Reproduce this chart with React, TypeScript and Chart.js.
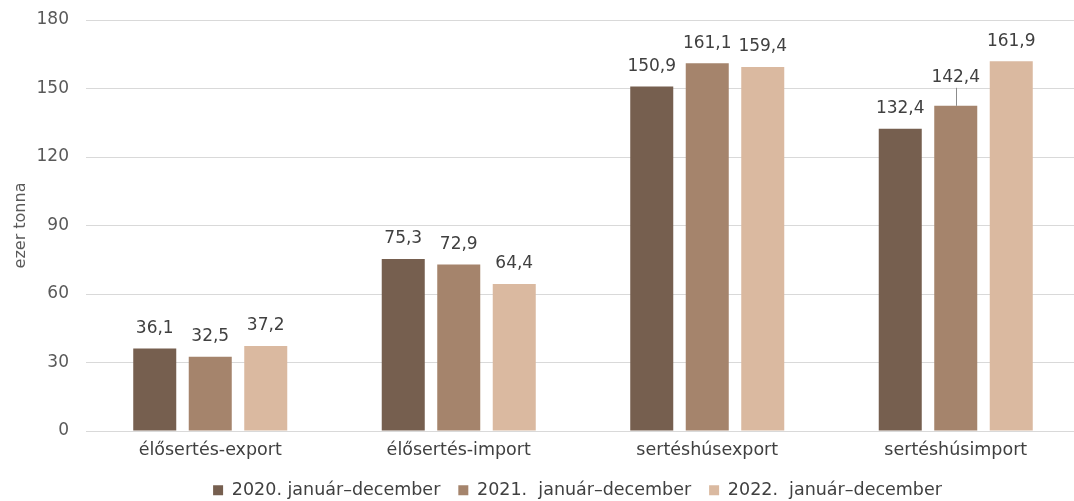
import React, { useEffect, useRef } from "react";
import { Chart, registerables } from "chart.js";

Chart.register(...registerables);

const categories = ["élősertés-export", "élősertés-import", "sertéshúsexport", "sertéshúsimport"];
const seriesLabels = ["2020. január–december", "2021.  január–december", "2022.  január–december"];
const values2020 = [36.1, 75.3, 150.9, 132.4];
const values2021 = [32.5, 72.9, 161.1, 142.4];
const values2022 = [37.2, 64.4, 159.4, 161.9];
const yMin = 0;
const yMax = 180;
const yStep = 30;
const yTitle = "ezer tonna";

const colors = ["#765F4F", "#A5846C", "#DAB9A0"];
const FONT = '"DejaVu Sans", sans-serif';

const valueLabels = {
  id: "valueLabels",
  afterDatasetsDraw(chart: any) {
    const ctx = chart.ctx;
    ctx.save();
    ctx.font = `17px ${FONT}`;
    ctx.textAlign = "center";
    ctx.textBaseline = "middle";
    chart.data.datasets.forEach((ds: any, di: number) => {
      const meta = chart.getDatasetMeta(di);
      meta.data.forEach((bar: any, i: number) => {
        const v = ds.data[i] as number;
        const lifted = di === 1 && i === 3;
        const y = bar.y - (lifted ? 28 : 20);
        if (lifted) {
          ctx.strokeStyle = "#8c8c8c";
          ctx.lineWidth = 1;
          ctx.beginPath();
          ctx.moveTo(Math.round(bar.x) + 0.5, y + 10);
          ctx.lineTo(Math.round(bar.x) + 0.5, bar.y);
          ctx.stroke();
        }
        ctx.fillStyle = "#404040";
        ctx.fillText(v.toFixed(1).replace(".", ","), bar.x, y);
      });
    });
    ctx.restore();
  },
};

// centre the legend under the middle of the plot area rather than the whole box
const legendShift = {
  id: "legendShift",
  afterLayout(chart: any) {
    const lg = chart.legend;
    if (!lg) return;
    const ca = chart.chartArea;
    const target = (ca.left + ca.right) / 2 - 5.5;
    const cur = (lg.left + lg.right) / 2;
    const d = target - cur;
    lg.left += d;
    lg.right += d;
  },
};

export default function App() {
  const ref = useRef<HTMLCanvasElement | null>(null);
  useEffect(() => {
    if (!ref.current) return;
    Chart.defaults.font.family = FONT;
    const chart = new Chart(ref.current, {
      type: "bar",
      data: {
        labels: categories,
        datasets: [values2020, values2021, values2022].map((d, k) => ({
          label: seriesLabels[k],
          data: d,
          backgroundColor: colors[k],
          borderWidth: 0,
          barPercentage: 0.775,
          categoryPercentage: 0.67,
        })),
      },
      options: {
        responsive: false,
        animation: false,
        devicePixelRatio: 1,
        layout: { padding: { top: 20, right: 75, left: 0, bottom: 0 } },
        plugins: {
          tooltip: { enabled: false },
          legend: {
            position: "bottom",
            labels: {
              boxWidth: 10,
              boxHeight: 10,
              padding: 18,
              color: "#404040",
              font: { size: 17.5 },
            },
          },
        },
        scales: {
          x: {
            grid: { display: false },
            border: { display: false },
            ticks: { color: "#404040", font: { size: 17.5 }, padding: 1 },
            afterFit: (s: any) => { s.height = 32.5; },
          },
          y: {
            min: yMin,
            max: yMax,
            ticks: { stepSize: yStep, color: "#595959", font: { size: 17 }, padding: 0 },
            grid: { color: "#d9d9d9", drawTicks: true, tickLength: 17, tickColor: "rgba(0,0,0,0)", lineWidth: 1 },
            border: { display: false },
            title: { display: true, text: yTitle, color: "#595959", font: { size: 16 }, padding: { top: 11, bottom: 0 } },
            afterFit: (s: any) => { s.width = 86; },
          },
        },
      },
      plugins: [valueLabels, legendShift],
    });
    return () => chart.destroy();
  }, []);
  return (
    <div style={{ position: "absolute", left: 0, top: 0, width: 1074, height: 501, overflow: "hidden", background: "#fff" }}>
      <canvas ref={ref} width={1155} height={509} style={{ width: 1155, height: 509, display: "block" }} />
    </div>
  );
}
